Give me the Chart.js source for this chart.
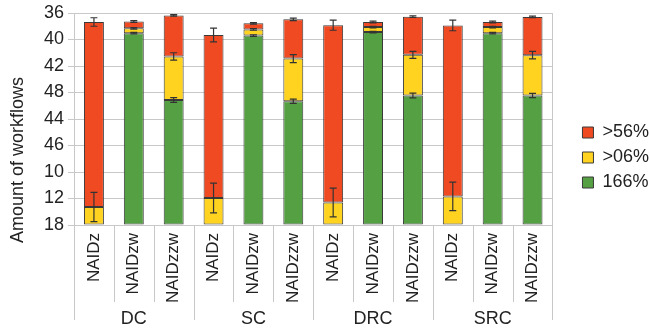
<!DOCTYPE html>
<html>
<head>
<meta charset="utf-8">
<script src="https://cdn.jsdelivr.net/npm/chart.js@4.4.1/dist/chart.umd.min.js"></script>
<style>
  html, body { margin: 0; padding: 0; background: #fff; }
  #wrap { width: 650px; height: 331px; }
</style>
</head>
<body>
<div id="wrap"><canvas id="chart" width="650" height="331"></canvas></div>
<script>
/* ================= DATEN ================= */
const LABELS = ["NAIDz","NAIDzw","NAIDzzw","NAIDz","NAIDzw","NAIDzzw","NAIDz","NAIDzw","NAIDzzw","NAIDz","NAIDzw","NAIDzzw"];
const GROUPS = ["DC","SC","DRC","SRC"];
const Y_TICKS = ["18","12","10","46","44","48","42","40","36"];

// Segmenthöhen in Achseneinheiten (0..8), von unten nach oben gestapelt
const GREEN  = [0, 7.24, 4.72, 0, 7.15, 4.67, 0, 7.28, 4.89, 0, 7.24, 4.89];
const YELLOW = [0.68, 0.18, 1.64, 1.02, 0.23, 1.61, 0.85, 0.19, 1.53, 1.08, 0.23, 1.52];
const RED    = [6.98, 0.26, 1.55, 6.15, 0.23, 1.48, 6.69, 0.19, 1.44, 6.45, 0.19, 1.44];

// Fehlerbalken (± am oberen Rand jedes Segments)
const ERR_GREEN  = [0, 0.03, 0.09, 0, 0.03, 0.08, 0, 0.03, 0.09, 0, 0.03, 0.08];
const ERR_YELLOW = [0.55, 0.03, 0.14, 0.56, 0.03, 0.15, 0.54, 0.03, 0.13, 0.54, 0.03, 0.14];
const ERR_RED    = [0.16, 0.03, 0.03, 0.26, 0.03, 0.05, 0.19, 0.03, 0.03, 0.2, 0.03, 0.03];

const FONT = "'Liberation Sans', Arial, sans-serif";
const GRID = "#c8c8c8";
const TXT = "#222";

/* ================= PLUGINS ================= */
const errorBars = {
    id: "errorBars",
    afterDatasetsDraw(chart){
        const ctx = chart.ctx, y = chart.scales.y;
        const errs = [ERR_GREEN, ERR_YELLOW, ERR_RED];
        ctx.save();
        ctx.strokeStyle = "#333";
        ctx.lineWidth = 1.2;
        chart.data.datasets.forEach((ds, di) => {
            const meta = chart.getDatasetMeta(di);
            meta.data.forEach((bar, i) => {
                if(!ds.data[i]) return;
                let top = 0;
                for(let k = 0; k <= di; k++) top += chart.data.datasets[k].data[i];
                const e = errs[di][i];
                const y1 = y.getPixelForValue(top + e), y2 = y.getPixelForValue(top - e);
                const x = bar.x;
                ctx.beginPath();
                ctx.moveTo(x, y1); ctx.lineTo(x, y2);
                ctx.moveTo(x - 3.5, y1); ctx.lineTo(x + 3.5, y1);
                ctx.moveTo(x - 3.5, y2); ctx.lineTo(x + 3.5, y2);
                ctx.stroke();
            });
        });
        ctx.restore();
    }
};

const decor = {
    id: "decor",
    afterDraw(chart){
        const ctx = chart.ctx, x = chart.scales.x, area = chart.chartArea;
        ctx.save();
        // Trennlinien unter der x-Achse
        ctx.strokeStyle = GRID;
        ctx.lineWidth = 1;
        const n = LABELS.length;
        for(let i = 0; i <= n; i++){
            let px;
            if(i === 0) px = x.left;
            else if(i === n) px = x.right;
            else px = (x.getPixelForValue(i - 1) + x.getPixelForValue(i)) / 2;
            px = Math.round(px) + 0.5;
            ctx.beginPath();
            ctx.moveTo(px, area.bottom);
            ctx.lineTo(px, i % 3 === 0 ? 320 : 302);
            ctx.stroke();
        }
        // y-Achsentitel
        ctx.fillStyle = TXT;
        ctx.font = "18px " + FONT;
        ctx.textAlign = "center";
        ctx.textBaseline = "middle";
        ctx.translate(18, 160);
        ctx.rotate(-Math.PI / 2);
        ctx.fillText("Amount of workflows", 0, 0);
        ctx.restore();
    }
};

/* ================= CHART ================= */
const mk = (label, data, color) => ({
    label, data, backgroundColor: color, borderColor: "#3a3a3a", borderWidth: 1,
    borderSkipped: false, barPercentage: 0.5, categoryPercentage: 1.0
});

new Chart(document.getElementById("chart"), {
    type: "bar",
    data: {
        labels: LABELS,
        datasets: [
            mk("166%", GREEN, "#55a043"),
            mk(">06%", YELLOW, "#ffd31f"),
            mk(">56%", RED, "#f04a22")
        ]
    },
    options: {
        responsive: false,
        animation: false,
        layout: { padding: { left: 0, top: -16, right: -9, bottom: 0 } },
        plugins: {
            legend: {
                position: "right",
                reverse: true,
                labels: {
                    boxWidth: 11, boxHeight: 11, padding: 7,
                    color: TXT, font: { family: FONT, size: 18 }
                }
            },
            tooltip: { enabled: false }
        },
        scales: {
            x: {
                stacked: true,
                grid: { display: false, drawTicks: false },
                border: { color: GRID },
                afterFit: s => { s.height = 80; },
                ticks: {
                    minRotation: 90, maxRotation: 90, padding: 8,
                    color: TXT, font: { family: FONT, size: 17 }
                }
            },
            x2: {
                type: "category",
                labels: GROUPS,
                position: "bottom",
                grid: { display: false, drawTicks: false },
                border: { display: false },
                afterFit: s => { s.height = 26; },
                ticks: { padding: 3, color: TXT, font: { family: FONT, size: 18 } }
            },
            y: {
                stacked: true,
                min: 0, max: 8,
                grid: { color: GRID, tickLength: 6 },
                border: { color: GRID },
                afterFit: s => { s.width = 74; },
                ticks: {
                    stepSize: 1, padding: 4,
                    color: TXT, font: { family: FONT, size: 18, lineHeight: 1 },
                    callback: v => Y_TICKS[v]
                }
            },
            y2: {
                position: "right",
                min: 0, max: 8,
                grid: { drawOnChartArea: false, drawTicks: false },
                border: { color: GRID },
                afterFit: s => { s.width = 23; },
                ticks: { display: false }
            }
        }
    },
    plugins: [errorBars, decor]
});
</script>
</body>
</html>
